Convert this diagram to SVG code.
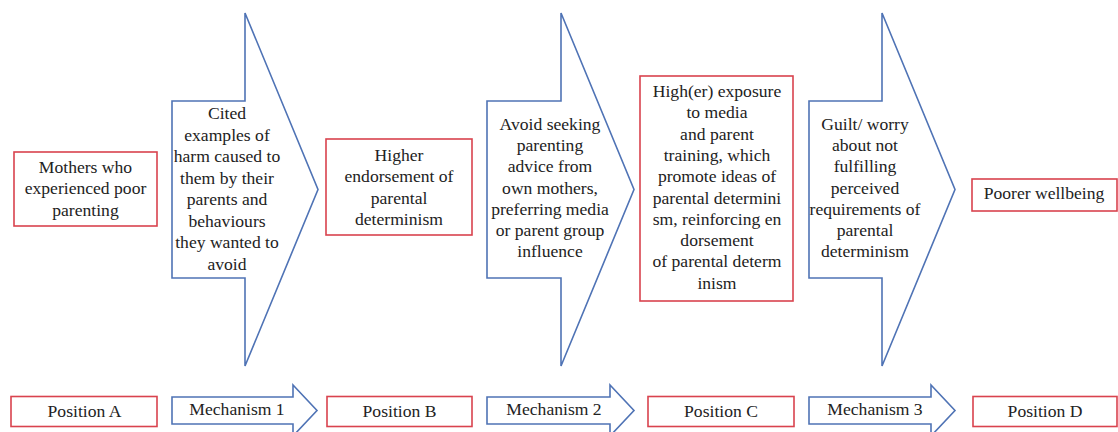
<svg xmlns="http://www.w3.org/2000/svg" width="1118" height="432" viewBox="0 0 1118 432">
<style>
.pos{fill:#fff;stroke:#d9434e;stroke-width:1.6}
.mech{fill:#fff;stroke:#4f73b5;stroke-width:1.6;stroke-linejoin:miter}
text{font-family:"Liberation Serif","Times New Roman",Times,"Noto Serif","DejaVu Serif",FreeSerif,Georgia,serif;font-size:17.6px;fill:#222;text-anchor:middle}
</style>
<rect width="1118" height="432" fill="#fff"/>
<g id="connectors">
<polygon id="arrow1" class="mech" points="172,101 245,101 245,13 318,189.5 245,366 245,278 172,278"/>
<polygon id="arrow2" class="mech" points="487,101 561,101 561,13 634,189.5 561,366 561,278 487,278"/>
<polygon id="arrow3" class="mech" points="809,101 882,101 882,13 955,189.5 882,366 882,278 809,278"/>
<polygon id="legend-arrow1" class="mech" points="172,397 293,397 293,385 317,410.5 293,436 293,424 172,424"/>
<polygon id="legend-arrow2" class="mech" points="487,397 610,397 610,385 634,410.5 610,436 610,424 487,424"/>
<polygon id="legend-arrow3" class="mech" points="809,397 931,397 931,385 955,410.5 931,436 931,424 809,424"/>
</g>
<g id="mech1-text">
<text x="227" y="119">Cited</text>
<text x="227" y="140.5">examples of</text>
<text x="227" y="162">harm caused to</text>
<text x="227" y="183.5">them by their</text>
<text x="227" y="205">parents and</text>
<text x="227" y="226.5">behaviours</text>
<text x="227" y="248">they wanted to</text>
<text x="227" y="269.5">avoid</text>
</g>
<g id="mech2-text">
<text x="550" y="129.5">Avoid seeking</text>
<text x="550" y="151">parenting</text>
<text x="550" y="172">advice from</text>
<text x="550" y="193.5">own mothers,</text>
<text x="550" y="214.5">preferring media</text>
<text x="550" y="235.5">or parent group</text>
<text x="550" y="257">influence</text>
</g>
<g id="mech3-text">
<text x="865" y="129.5">Guilt/ worry</text>
<text x="865" y="151">about not</text>
<text x="865" y="172">fulfilling</text>
<text x="865" y="193.5">perceived</text>
<text x="865" y="214.5">requirements of</text>
<text x="865" y="235.5">parental</text>
<text x="865" y="257">determinism</text>
</g>
<g id="posA">
<rect class="pos" x="14" y="152" width="143" height="74"/>
<text x="85.5" y="172.5">Mothers who</text>
<text x="85.5" y="194">experienced poor</text>
<text x="85.5" y="215.5">parenting</text>
</g>
<g id="posB">
<rect class="pos" x="326" y="139" width="146" height="96"/>
<text x="399" y="160.5">Higher</text>
<text x="399" y="182">endorsement of</text>
<text x="399" y="203.5">parental</text>
<text x="399" y="225">determinism</text>
</g>
<g id="posC">
<rect class="pos" x="640" y="76" width="153" height="225"/>
<text x="717" y="97">High(er) exposure</text>
<text x="717" y="118.3">to media</text>
<text x="717" y="139.6">and parent</text>
<text x="717" y="160.9">training, which</text>
<text x="717" y="182.2">promote ideas of</text>
<text x="717" y="203.5">parental determini</text>
<text x="717" y="224.8">sm, reinforcing en</text>
<text x="717" y="246.1">dorsement</text>
<text x="717" y="267.4">of parental determ</text>
<text x="717" y="288.7">inism</text>
</g>
<g id="posD">
<rect class="pos" x="972" y="179" width="145" height="32"/>
<text x="1044" y="199">Poorer wellbeing</text>
</g>
<g id="legend-posA">
<rect class="pos" x="11" y="396.5" width="146" height="30"/>
<text x="84.5" y="417">Position A</text>
</g>
<g id="legend-mech1"><text x="237" y="415">Mechanism 1</text></g>
<g id="legend-posB">
<rect class="pos" x="327" y="396.5" width="145" height="30"/>
<text x="399.5" y="417">Position B</text>
</g>
<g id="legend-mech2"><text x="554" y="415">Mechanism 2</text></g>
<g id="legend-posC">
<rect class="pos" x="648" y="396.5" width="146" height="30"/>
<text x="721" y="417">Position C</text>
</g>
<g id="legend-mech3"><text x="875" y="415">Mechanism 3</text></g>
<g id="legend-posD">
<rect class="pos" x="973" y="396.5" width="144" height="30"/>
<text x="1045" y="417">Position D</text>
</g>
</svg>
